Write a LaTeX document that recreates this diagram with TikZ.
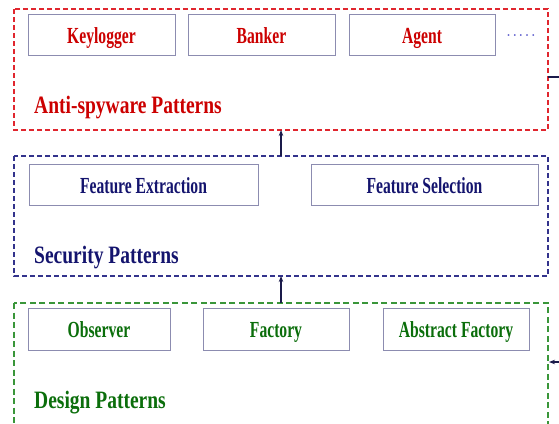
\documentclass[tikz,border=0pt]{standalone}
\usepackage{fontspec}
\setmainfont{Liberation Serif}[FakeStretch=0.78]
\newfontfamily\itemfont{Liberation Serif}[FakeStretch=0.68]
\newfontfamily\dotfont{Liberation Serif}
\usetikzlibrary{arrows.meta}
\definecolor{antired}{HTML}{CC0000}
\definecolor{antiframe}{HTML}{E0262E}
\definecolor{secblue}{HTML}{14146E}
\definecolor{secframe}{HTML}{33338C}
\definecolor{desgreen}{HTML}{0B6E0B}
\definecolor{desframe}{HTML}{3A963A}
\definecolor{itemframe}{HTML}{8C8CB0}
\definecolor{linknavy}{HTML}{1A1A4A}
\definecolor{dotblue}{HTML}{5050C8}
\tikzset{
  layer/.style={draw, line width=1.1pt, dash pattern=on 5pt off 3pt},
  item/.style={draw=itemframe, line width=0.9pt, fill=white},
  itemtext/.style={font=\itemfont\bfseries\fontsize{23}{25}\selectfont, anchor=base, inner sep=0pt},
  titletext/.style={font=\bfseries\fontsize{25}{28}\selectfont, anchor=base west, inner sep=0pt},
  link/.style={draw=linknavy, line width=1.2pt, -{Stealth[length=6pt,width=4.5pt]}}
}
\begin{document}
\begin{tikzpicture}[x=1pt,y=-1pt]
\useasboundingbox (0,0) rectangle (559,423);
\clip (0,0) rectangle (559,423);

% Anti-spyware layer
\draw[layer, antiframe] (14,9) rectangle (548,130);
\path[item] (28,14) rectangle (175,55);
\path[item] (188,14) rectangle (335,55);
\path[item] (349,14) rectangle (495,55);
\node[itemtext, text=antired] (keylogger) at (101.5,43) {Keylogger};
\node[itemtext, text=antired] (banker) at (261.5,43) {Banker};
\node[itemtext, text=antired] (agent) at (422,43) {Agent};
\node[text=dotblue, font=\dotfont\fontsize{15}{16}\selectfont, anchor=base, inner sep=0pt] (more) at (521,40)
  {·\hspace{1.2pt}·\hspace{1.2pt}·\hspace{1.2pt}·\hspace{1.2pt}·};
\node[titletext, text=antired] (antititle) at (34,113) {Anti-spyware Patterns};
\coordinate (antiS) at (281,130);
\coordinate (antiE) at (548,77);

% Security layer
\draw[layer, secframe] (14,156) rectangle (548,276);
\path[item] (29,164) rectangle (258,205);
\path[item] (311,164) rectangle (538,205);
\node[itemtext, text=secblue] (extract) at (143.5,193) {Feature Extraction};
\node[itemtext, text=secblue] (select) at (424.5,193) {Feature Selection};
\node[titletext, text=secblue] (sectitle) at (34,263) {Security Patterns};
\coordinate (secN) at (281,156);
\coordinate (secS) at (281,276);

% Design layer
\draw[layer, desframe, dash pattern=on 6pt off 3.5pt] (14,303) rectangle (548,440);
\path[item] (28,308) rectangle (170,350);
\path[item] (203,308) rectangle (349,350);
\path[item] (383,308) rectangle (529,350);
\node[itemtext, text=desgreen] (observer) at (99,337) {Observer};
\node[itemtext, text=desgreen] (factory) at (276,337) {Factory};
\node[itemtext, text=desgreen] (absfactory) at (456,337) {Abstract Factory};
\node[titletext, text=desgreen] (destitle) at (34,408) {Design Patterns};
\coordinate (desN) at (281,303);
\coordinate (desE) at (549,362);

% Links between layers
\draw[link] (secN) -- (antiS);
\draw[link] (desN) -- (secS);
\coordinate (offR) at (560,77);
\coordinate (inR) at (560,362);
\draw[draw=linknavy, line width=1.4pt] (antiE) -- (offR);
\draw[link] (inR) -- (desE);
\end{tikzpicture}
\end{document}
